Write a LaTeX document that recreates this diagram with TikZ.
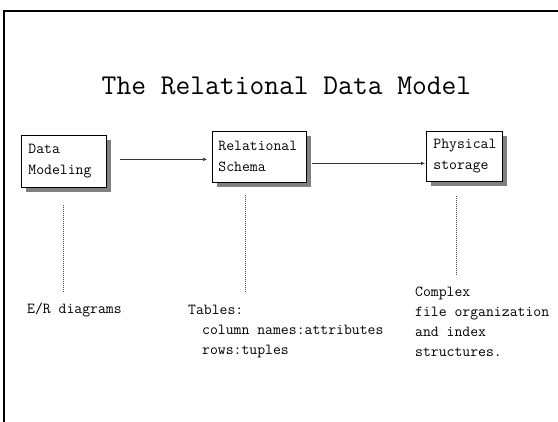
\documentclass[tikz,border=0pt]{standalone}
\usepackage{fontspec}
\usetikzlibrary{shadows,arrows.meta}
\begin{document}
\begin{tikzpicture}[x=1pt,y=-1pt,
  stagebox/.style={draw=black,line width=0.8pt,fill=white,anchor=north west,
    inner xsep=0pt,inner ysep=0pt,align=left,
    font=\ttfamily\fontsize{15.3}{21}\selectfont,
    drop shadow={shadow xshift=4.5pt,shadow yshift=-4.5pt,fill=black!50,opacity=1}},
  note/.style={anchor=base west,inner sep=0pt,font=\ttfamily\fontsize{15.3}{20}\selectfont},
  flow/.style={draw=black!80,line width=0.6pt,-{Latex[length=4pt,width=3.5pt]}},
  link/.style={draw=black!70,line width=0.6pt,dash pattern=on 1pt off 1pt}]
\useasboundingbox (0,0) rectangle (558,422);
\fill[white] (0,0) rectangle (558,422);
% slide frame running off the right and bottom edges
\draw[line width=2.5pt] (4,440) -- (4,11) -- (580,11);
% heading
\node[anchor=base,inner sep=0pt,font=\ttfamily\fontsize{28.7}{34}\selectfont] (title) at (286.5,95) {The Relational Data Model};
% the three stages
\node[stagebox,minimum width=85pt,minimum height=52pt,text width=85pt] (dm) at (21,135) {\hspace*{7pt}Data\\\hspace*{7pt}Modeling};
\node[stagebox,minimum width=94pt,minimum height=51pt,text width=94pt] (rs) at (212,131) {\hspace*{6pt}Relational\\\hspace*{6pt}Schema};
\node[stagebox,minimum width=76pt,minimum height=50pt,text width=76pt] (ps) at (426,131) {\hspace*{7pt}Physical\\\hspace*{7pt}storage};
% arrows between stages
\draw[flow] ([xshift=13pt,yshift=2pt]dm.east) -- ([xshift=-5pt,yshift=-2.5pt]rs.west);
\draw[flow] ([xshift=5pt,yshift=-6.5pt]rs.east) -- ([xshift=-1pt,yshift=-7pt]ps.west);
% descriptions
\node[note] (er) at (27,314) {E/R diagrams};
\node[note] (tb) at (188,315) {Tables:};
\node[note] (tc) at (202,335) {column names:attributes};
\node[note] (tr) at (202,355) {rows:tuples};
\node[note] (c1) at (415,297) {Complex};
\node[note] (c2) at (415,317) {file organization};
\node[note] (c3) at (415,337) {and index};
\node[note] (c4) at (415,357) {structures.};
% dotted leaders from stages to descriptions
\coordinate (d1a) at (63,205);  \coordinate (d1b) at (63,293);
\coordinate (d2a) at (245,195); \coordinate (d2b) at (245,293);
\coordinate (d3a) at (456,196); \coordinate (d3b) at (456,275);
\draw[link] (d1a) -- (d1b);
\draw[link] (d2a) -- (d2b);
\draw[link] (d3a) -- (d3b);
\end{tikzpicture}
\end{document}
